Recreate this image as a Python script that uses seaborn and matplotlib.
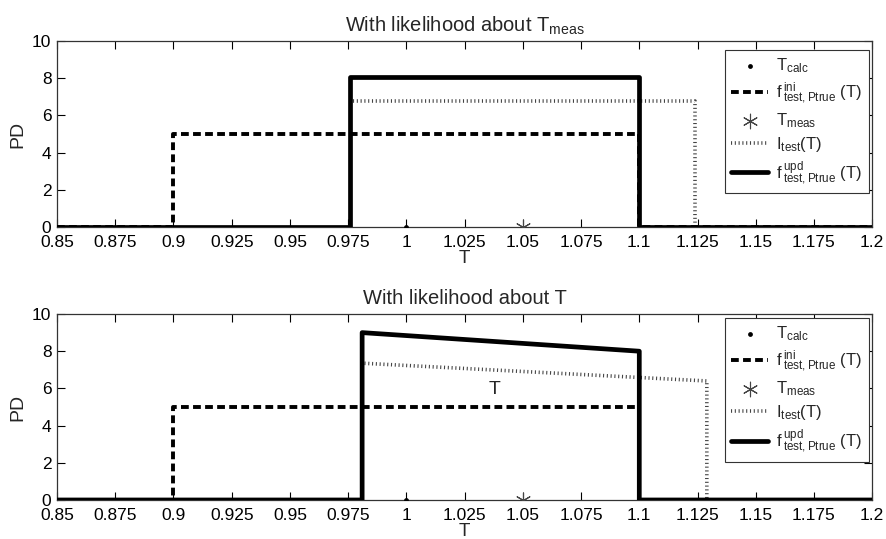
import matplotlib
matplotlib.use('Agg')
import matplotlib.pyplot as plt
import seaborn as sns
import numpy as np
import pandas as pd

# ============================================================================
# DATA
# ============================================================================
# top panel: likelihood about T_meas
top_ini_t = [0.85, 0.9, 0.9, 1.1, 1.1, 1.2]
top_ini_pd = [0, 0, 5, 5, 0, 0]
top_lik_t = [0.977, 1.124, 1.124]
top_lik_pd = [6.75, 6.75, 0]
top_upd_t = [0.85, 0.976, 0.976, 1.1, 1.1, 1.2]
top_upd_pd = [0, 0, 8.06, 8.06, 0, 0]

# bottom panel: likelihood about T
bot_ini_t = [0.85, 0.9, 0.9, 1.1, 1.1, 1.2]
bot_ini_pd = [0, 0, 5, 5, 0, 0]
bot_lik_t = [0.982, 1.129, 1.129]
bot_lik_pd = [7.35, 6.4, 0]
bot_upd_t = [0.85, 0.981, 0.981, 1.1, 1.1, 1.2]
bot_upd_pd = [0, 0, 9.0, 8.0, 0, 0]

t_calc = 1.0
t_meas = 1.05

titles = [r'With likelihood about T$_{\mathregular{meas}}$', 'With likelihood about T']
x_ticks = [0.85, 0.875, 0.9, 0.925, 0.95, 0.975, 1.0, 1.025, 1.05, 1.075, 1.1, 1.125, 1.15, 1.175, 1.2]
y_ticks = [0, 2, 4, 6, 8, 10]

legend_labels = [r'T$_{\mathregular{calc}}$',
                 r'$\mathregular{f}\,{}^{\mathregular{ini}}_{\mathregular{test,Ptrue}}$ (T)',
                 r'T$_{\mathregular{meas}}$',
                 r'I$_{\mathregular{test}}$(T)',
                 r'$\mathregular{f}\,{}^{\mathregular{upd}}_{\mathregular{test,Ptrue}}$ (T)']

# ============================================================================
# STYLE
# ============================================================================
sns.set_style('ticks')
plt.rcParams['font.family'] = ['Liberation Sans', 'DejaVu Sans']
plt.rcParams['mathtext.fontset'] = 'custom'
plt.rcParams['mathtext.rm'] = 'Liberation Sans'
plt.rcParams['mathtext.it'] = 'Liberation Sans'
plt.rcParams['xtick.direction'] = 'in'
plt.rcParams['ytick.direction'] = 'in'

fig = plt.figure(figsize=(8.87, 5.39), dpi=100)
ax_top = fig.add_axes([0.0643, 0.579, 0.919, 0.345])
ax_bot = fig.add_axes([0.0643, 0.0724, 0.919, 0.345])

panels = [
    (ax_top, top_ini_t, top_ini_pd, top_lik_t, top_lik_pd, top_upd_t, top_upd_pd, 0.952),
    (ax_bot, bot_ini_t, bot_ini_pd, bot_lik_t, bot_lik_pd, bot_upd_t, bot_upd_pd, 0.978),
]

for i, (ax, it, ip, lt, lp, ut, up, leg_y) in enumerate(panels):
    sns.scatterplot(x=[t_calc], y=[0], ax=ax, color='black', marker='o', s=12,
                    edgecolor='black', linewidth=0, zorder=6, label=legend_labels[0])
    sns.lineplot(x=it, y=ip, ax=ax, sort=False, estimator=None, color='black',
                 linewidth=2.8, linestyle=(0, (2.0, 1.1)), zorder=3, label=legend_labels[1])
    sns.scatterplot(x=[t_meas], y=[0], ax=ax, color='#444444', marker=(6, 2, 0), s=110,
                    linewidth=0.8, zorder=6, label=legend_labels[2])
    sns.lineplot(x=lt, y=lp, ax=ax, sort=False, estimator=None, color='#444444',
                 linewidth=2.6, linestyle=(0, (0.3, 0.75)), zorder=2, label=legend_labels[3])
    sns.lineplot(x=ut, y=up, ax=ax, sort=False, estimator=None, color='black',
                 linewidth=3.4, zorder=4, label=legend_labels[4])

    ax.set_xlim(0.85, 1.2)
    ax.set_ylim(0, 10)
    ax.set_xticks(x_ticks)
    ax.set_xticklabels([f'{v:g}' for v in x_ticks], fontsize=12.5)
    ax.set_yticks(y_ticks)
    ax.set_yticklabels([str(v) for v in y_ticks], fontsize=12.5)
    ax.tick_params(top=True, right=True, length=6, width=0.8, colors='black')
    ax.tick_params(axis='x', pad=5.5)
    ax.tick_params(axis='y', pad=4)
    for sp in ax.spines.values():
        sp.set_visible(True)
        sp.set_linewidth(0.9)
        sp.set_color('#333333')
    ax.set_xlabel('T', fontsize=13.5, labelpad=0)
    ax.set_ylabel('PD', fontsize=14, labelpad=4)
    ax.set_title(titles[i], fontsize=14.5, pad=7)

    leg = ax.legend(loc='upper right', bbox_to_anchor=(0.9963, leg_y), fontsize=12,
                    frameon=True, fancybox=False, edgecolor='#333333', framealpha=1,
                    handlelength=2.2, labelspacing=0.3, borderpad=0.4, borderaxespad=0.0,
                    handletextpad=0.5, markerscale=1.0)
    leg.get_frame().set_linewidth(0.8)

ax_bot.text(1.0377, 5.5, 'T', fontsize=14, ha='center', va='bottom')

fig.savefig('out.png', dpi=100, facecolor='white')
plt.close(fig)
